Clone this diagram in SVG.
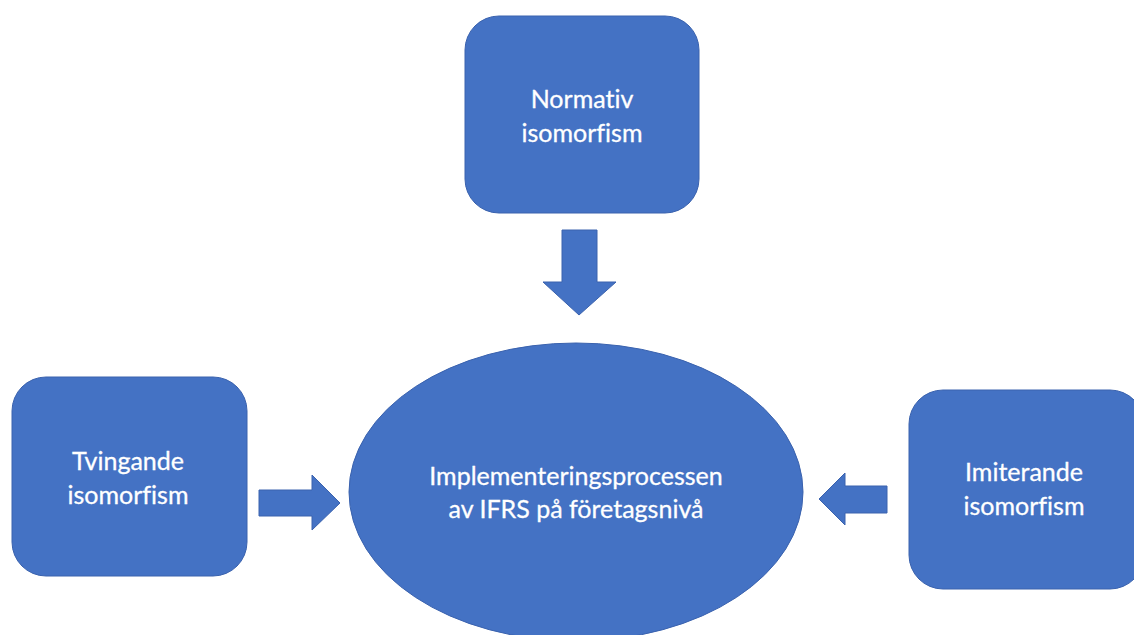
<svg xmlns="http://www.w3.org/2000/svg" width="1134" height="635" viewBox="0 0 1134 635">
<style>
.shape{fill:#4472C4;stroke:#3A62AE;stroke-width:1}
.lbl{fill:#FFFFFF;font-family:Lato,"Open Sans","Liberation Sans",sans-serif;font-size:25px;text-anchor:middle;font-variant-ligatures:none;stroke:#FFFFFF;stroke-width:0.3}
</style>
<rect width="1134" height="635" fill="#FFFFFF"/>
<g id="connectors">
<path id="arrow-top" class="shape" d="M562,230 H597 V282 H616 L579,315 L543,282 H562 Z"/>
<path id="arrow-left" class="shape" d="M259,490 H312 V475 L340,503 L312,530 V516 H259 Z"/>
<path id="arrow-right" class="shape" d="M887,486 V513 H845 V525 L819,499 L845,473 V486 Z"/>
</g>
<g id="node-normativ">
<rect class="shape" x="465" y="16" width="234" height="197" rx="34" ry="34"/>
<text class="lbl" x="582" y="108">Normativ</text>
<text class="lbl" x="582" y="142">isomorfism</text>
</g>
<g id="node-tvingande">
<rect class="shape" x="12" y="377" width="235" height="199" rx="34" ry="34"/>
<text class="lbl" x="128" y="470">Tvingande</text>
<text class="lbl" x="128" y="504">isomorfism</text>
</g>
<g id="node-imiterande">
<rect class="shape" x="909" y="390" width="235" height="199" rx="34" ry="34"/>
<text class="lbl" x="1024" y="481">Imiterande</text>
<text class="lbl" x="1024" y="515">isomorfism</text>
</g>
<g id="node-center">
<ellipse class="shape" cx="576" cy="492" rx="227" ry="149"/>
<text class="lbl" x="576" y="485">Implementeringsprocessen</text>
<text class="lbl" x="576" y="518">av IFRS på företagsnivå</text>
</g>
</svg>
